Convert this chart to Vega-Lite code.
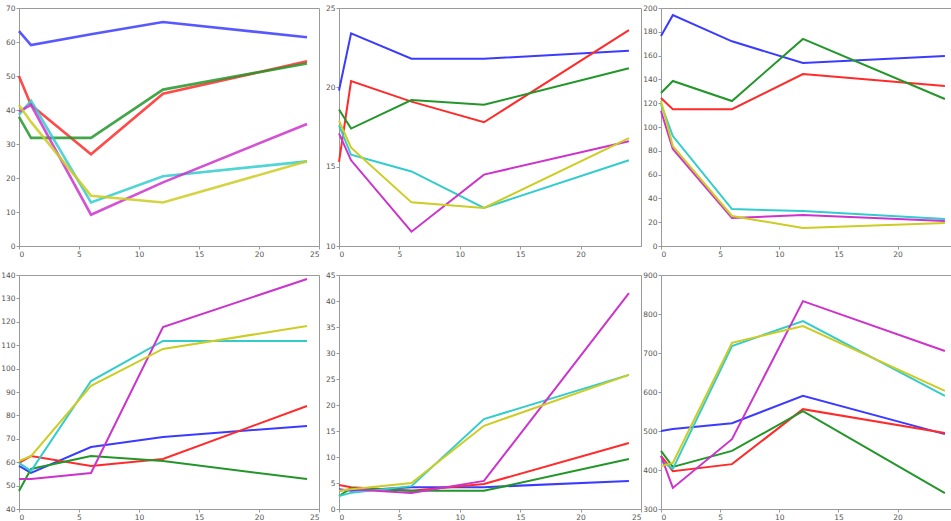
{
"$schema": "https://vega.github.io/schema/vega-lite/v6.json",
"background": "white",
"padding": {"left": 0, "top": 3, "right": 0, "bottom": 0},
"datasets": {"d": [
{"p":1,"s":"blue","t":0,"v":63.2},{"p":1,"s":"blue","t":1,"v":59.1},{"p":1,"s":"blue","t":6,"v":62.3},{"p":1,"s":"blue","t":12,"v":65.9},{"p":1,"s":"blue","t":24,"v":61.4},
{"p":1,"s":"red","t":0,"v":49.9},{"p":1,"s":"red","t":1,"v":41.5},{"p":1,"s":"red","t":6,"v":27.0},{"p":1,"s":"red","t":12,"v":44.8},{"p":1,"s":"red","t":24,"v":54.3},
{"p":1,"s":"green","t":0,"v":38.0},{"p":1,"s":"green","t":1,"v":31.8},{"p":1,"s":"green","t":6,"v":31.8},{"p":1,"s":"green","t":12,"v":46.0},{"p":1,"s":"green","t":24,"v":53.7},
{"p":1,"s":"cyan","t":0,"v":38.6},{"p":1,"s":"cyan","t":1,"v":42.7},{"p":1,"s":"cyan","t":6,"v":12.8},{"p":1,"s":"cyan","t":12,"v":20.5},{"p":1,"s":"cyan","t":24,"v":24.9},
{"p":1,"s":"magenta","t":0,"v":39.5},{"p":1,"s":"magenta","t":1,"v":41.5},{"p":1,"s":"magenta","t":6,"v":9.2},{"p":1,"s":"magenta","t":12,"v":18.7},{"p":1,"s":"magenta","t":24,"v":35.9},
{"p":1,"s":"yellow","t":0,"v":41.5},{"p":1,"s":"yellow","t":1,"v":36.5},{"p":1,"s":"yellow","t":6,"v":14.8},{"p":1,"s":"yellow","t":12,"v":12.8},{"p":1,"s":"yellow","t":24,"v":24.9},

{"p":2,"s":"blue","t":0,"v":19.8},{"p":2,"s":"blue","t":1,"v":23.4},{"p":2,"s":"blue","t":6,"v":21.8},{"p":2,"s":"blue","t":12,"v":21.8},{"p":2,"s":"blue","t":24,"v":22.3},
{"p":2,"s":"red","t":0,"v":15.3},{"p":2,"s":"red","t":1,"v":20.4},{"p":2,"s":"red","t":6,"v":19.1},{"p":2,"s":"red","t":12,"v":17.8},{"p":2,"s":"red","t":24,"v":23.6},
{"p":2,"s":"green","t":0,"v":18.6},{"p":2,"s":"green","t":1,"v":17.4},{"p":2,"s":"green","t":6,"v":19.2},{"p":2,"s":"green","t":12,"v":18.9},{"p":2,"s":"green","t":24,"v":21.2},
{"p":2,"s":"cyan","t":0,"v":17.6},{"p":2,"s":"cyan","t":1,"v":15.75},{"p":2,"s":"cyan","t":6,"v":14.7},{"p":2,"s":"cyan","t":12,"v":12.4},{"p":2,"s":"cyan","t":24,"v":15.4},
{"p":2,"s":"magenta","t":0,"v":17.1},{"p":2,"s":"magenta","t":1,"v":15.4},{"p":2,"s":"magenta","t":6,"v":10.9},{"p":2,"s":"magenta","t":12,"v":14.5},{"p":2,"s":"magenta","t":24,"v":16.6},
{"p":2,"s":"yellow","t":0,"v":17.9},{"p":2,"s":"yellow","t":1,"v":16.2},{"p":2,"s":"yellow","t":6,"v":12.75},{"p":2,"s":"yellow","t":12,"v":12.4},{"p":2,"s":"yellow","t":24,"v":16.8},

{"p":3,"s":"blue","t":0,"v":176.5},{"p":3,"s":"blue","t":1,"v":194},{"p":3,"s":"blue","t":6,"v":172},{"p":3,"s":"blue","t":12,"v":153.8},{"p":3,"s":"blue","t":24,"v":159.7},
{"p":3,"s":"red","t":0,"v":124.4},{"p":3,"s":"red","t":1,"v":115},{"p":3,"s":"red","t":6,"v":115},{"p":3,"s":"red","t":12,"v":144.5},{"p":3,"s":"red","t":24,"v":134.5},
{"p":3,"s":"green","t":0,"v":128.6},{"p":3,"s":"green","t":1,"v":138.7},{"p":3,"s":"green","t":6,"v":121.8},{"p":3,"s":"green","t":12,"v":174},{"p":3,"s":"green","t":24,"v":123.5},
{"p":3,"s":"cyan","t":0,"v":119.3},{"p":3,"s":"cyan","t":1,"v":92.4},{"p":3,"s":"cyan","t":6,"v":31},{"p":3,"s":"cyan","t":12,"v":29.4},{"p":3,"s":"cyan","t":24,"v":22.7},
{"p":3,"s":"magenta","t":0,"v":113.4},{"p":3,"s":"magenta","t":1,"v":81.5},{"p":3,"s":"magenta","t":6,"v":23.5},{"p":3,"s":"magenta","t":12,"v":26},{"p":3,"s":"magenta","t":24,"v":21},
{"p":3,"s":"yellow","t":0,"v":121.8},{"p":3,"s":"yellow","t":1,"v":84},{"p":3,"s":"yellow","t":6,"v":25.2},{"p":3,"s":"yellow","t":12,"v":15.1},{"p":3,"s":"yellow","t":24,"v":19.3},

{"p":4,"s":"blue","t":0,"v":58.4},{"p":4,"s":"blue","t":1,"v":55.4},{"p":4,"s":"blue","t":6,"v":66.5},{"p":4,"s":"blue","t":12,"v":70.8},{"p":4,"s":"blue","t":24,"v":75.5},
{"p":4,"s":"red","t":0,"v":59.7},{"p":4,"s":"red","t":1,"v":62.6},{"p":4,"s":"red","t":6,"v":58.4},{"p":4,"s":"red","t":12,"v":61.4},{"p":4,"s":"red","t":24,"v":84},
{"p":4,"s":"green","t":0,"v":47.7},{"p":4,"s":"green","t":1,"v":57.1},{"p":4,"s":"green","t":6,"v":62.6},{"p":4,"s":"green","t":12,"v":60.5},{"p":4,"s":"green","t":24,"v":52.8},
{"p":4,"s":"cyan","t":0,"v":59.7},{"p":4,"s":"cyan","t":1,"v":56.2},{"p":4,"s":"cyan","t":6,"v":94.7},{"p":4,"s":"cyan","t":12,"v":111.8},{"p":4,"s":"cyan","t":24,"v":111.8},
{"p":4,"s":"magenta","t":0,"v":52.8},{"p":4,"s":"magenta","t":1,"v":52.8},{"p":4,"s":"magenta","t":6,"v":55.4},{"p":4,"s":"magenta","t":12,"v":117.8},{"p":4,"s":"magenta","t":24,"v":138.3},
{"p":4,"s":"yellow","t":0,"v":60.5},{"p":4,"s":"yellow","t":1,"v":62.6},{"p":4,"s":"yellow","t":6,"v":92.6},{"p":4,"s":"yellow","t":12,"v":108.4},{"p":4,"s":"yellow","t":24,"v":118.2},

{"p":5,"s":"blue","t":0,"v":3.8},{"p":5,"s":"blue","t":1,"v":3.5},{"p":5,"s":"blue","t":6,"v":4.2},{"p":5,"s":"blue","t":12,"v":4.2},{"p":5,"s":"blue","t":24,"v":5.4},
{"p":5,"s":"red","t":0,"v":4.6},{"p":5,"s":"red","t":1,"v":4.2},{"p":5,"s":"red","t":6,"v":3.5},{"p":5,"s":"red","t":12,"v":4.8},{"p":5,"s":"red","t":24,"v":12.7},
{"p":5,"s":"green","t":0,"v":2.5},{"p":5,"s":"green","t":1,"v":4.0},{"p":5,"s":"green","t":6,"v":3.5},{"p":5,"s":"green","t":12,"v":3.5},{"p":5,"s":"green","t":24,"v":9.6},
{"p":5,"s":"cyan","t":0,"v":2.5},{"p":5,"s":"cyan","t":1,"v":3.1},{"p":5,"s":"cyan","t":6,"v":4.4},{"p":5,"s":"cyan","t":12,"v":17.3},{"p":5,"s":"cyan","t":24,"v":25.8},
{"p":5,"s":"magenta","t":0,"v":3.5},{"p":5,"s":"magenta","t":1,"v":3.8},{"p":5,"s":"magenta","t":6,"v":3.1},{"p":5,"s":"magenta","t":12,"v":5.4},{"p":5,"s":"magenta","t":24,"v":41.5},
{"p":5,"s":"yellow","t":0,"v":3.5},{"p":5,"s":"yellow","t":1,"v":3.8},{"p":5,"s":"yellow","t":6,"v":5.0},{"p":5,"s":"yellow","t":12,"v":16.0},{"p":5,"s":"yellow","t":24,"v":25.8},

{"p":6,"s":"blue","t":0,"v":500},{"p":6,"s":"blue","t":1,"v":505},{"p":6,"s":"blue","t":6,"v":520},{"p":6,"s":"blue","t":12,"v":590},{"p":6,"s":"blue","t":24,"v":492},
{"p":6,"s":"red","t":0,"v":436},{"p":6,"s":"red","t":1,"v":397},{"p":6,"s":"red","t":6,"v":415},{"p":6,"s":"red","t":12,"v":556},{"p":6,"s":"red","t":24,"v":495},
{"p":6,"s":"green","t":0,"v":449},{"p":6,"s":"green","t":1,"v":408},{"p":6,"s":"green","t":6,"v":449},{"p":6,"s":"green","t":12,"v":551},{"p":6,"s":"green","t":24,"v":341},
{"p":6,"s":"cyan","t":0,"v":423},{"p":6,"s":"cyan","t":1,"v":403},{"p":6,"s":"cyan","t":6,"v":718},{"p":6,"s":"cyan","t":12,"v":782},{"p":6,"s":"cyan","t":24,"v":590},
{"p":6,"s":"magenta","t":0,"v":436},{"p":6,"s":"magenta","t":1,"v":354},{"p":6,"s":"magenta","t":6,"v":479},{"p":6,"s":"magenta","t":12,"v":833},{"p":6,"s":"magenta","t":24,"v":705},
{"p":6,"s":"yellow","t":0,"v":410},{"p":6,"s":"yellow","t":1,"v":418},{"p":6,"s":"yellow","t":6,"v":726},{"p":6,"s":"yellow","t":12,"v":769},{"p":6,"s":"yellow","t":24,"v":603}
]},
"config": {
  "view": {"stroke": "#9a9a9a", "strokeWidth": 1},
  "axis": {"grid": false, "labelFontSize": 7.5, "labelColor": "#555555", "tickColor": "#9a9a9a", "domainColor": "#9a9a9a", "tickSize": 3, "labelPadding": 1, "title": null, "labelFont": "DejaVu Sans"},
  "line": {"strokeWidth": 2}
},
"columns": 3,
"spacing": {"row": 29, "column": 20},
"bounds": "flush",
"concat": [
  {"width": 300, "height": 238, "data": {"name": "d"}, "transform": [{"filter": "datum.p == 1"}], "mark": {"type": "line", "strokeWidth": 2.6, "opacity": 0.85},
   "encoding": {
    "x": {"field": "t", "type": "quantitative", "scale": {"domain": [0, 25], "nice": false}, "axis": {"values": [0, 5, 10, 15, 20, 25]}},
    "y": {"field": "v", "type": "quantitative", "scale": {"domain": [0, 70], "nice": false}, "axis": {"values": [0, 10, 20, 30, 40, 50, 60, 70]}},
    "color": {"field": "s", "type": "nominal", "legend": null, "scale": {"domain": ["blue", "red", "green", "cyan", "magenta", "yellow"], "range": ["#3b3bff", "#ff2a2a", "#23962a", "#33cccc", "#cc33cc", "#cccc22"]}}}},
  {"width": 302, "height": 238, "data": {"name": "d"}, "transform": [{"filter": "datum.p == 2"}], "mark": {"type": "line"},
   "encoding": {
    "x": {"field": "t", "type": "quantitative", "scale": {"domain": [0, 25], "nice": false}, "axis": {"values": [0, 5, 10, 15, 20]}},
    "y": {"field": "v", "type": "quantitative", "scale": {"domain": [10, 25], "nice": false, "zero": false}, "axis": {"values": [10, 15, 20, 25]}},
    "color": {"field": "s", "type": "nominal", "legend": null, "scale": {"domain": ["blue", "red", "green", "cyan", "magenta", "yellow"], "range": ["#2020ff", "#ff2020", "#239623", "#33cccc", "#cc33cc", "#cccc22"]}}}},
  {"width": 291, "height": 238, "data": {"name": "d"}, "transform": [{"filter": "datum.p == 3"}], "mark": {"type": "line"},
   "encoding": {
    "x": {"field": "t", "type": "quantitative", "scale": {"domain": [0, 24.6], "nice": false}, "axis": {"values": [0, 5, 10, 15, 20]}},
    "y": {"field": "v", "type": "quantitative", "scale": {"domain": [0, 200], "nice": false}, "axis": {"values": [0, 20, 40, 60, 80, 100, 120, 140, 160, 180, 200]}},
    "color": {"field": "s", "type": "nominal", "legend": null, "scale": {"domain": ["blue", "red", "green", "cyan", "magenta", "yellow"], "range": ["#2020ff", "#ff2020", "#239623", "#33cccc", "#cc33cc", "#cccc22"]}}}},
  {"width": 300, "height": 234, "data": {"name": "d"}, "transform": [{"filter": "datum.p == 4"}], "mark": {"type": "line"},
   "encoding": {
    "x": {"field": "t", "type": "quantitative", "scale": {"domain": [0, 25], "nice": false}, "axis": {"values": [0, 5, 10, 15, 20, 25]}},
    "y": {"field": "v", "type": "quantitative", "scale": {"domain": [40, 140], "nice": false, "zero": false}, "axis": {"values": [40, 50, 60, 70, 80, 90, 100, 110, 120, 130, 140]}},
    "color": {"field": "s", "type": "nominal", "legend": null, "scale": {"domain": ["blue", "red", "green", "cyan", "magenta", "yellow"], "range": ["#2020ff", "#ff2020", "#239623", "#33cccc", "#cc33cc", "#cccc22"]}}}},
  {"width": 302, "height": 234, "data": {"name": "d"}, "transform": [{"filter": "datum.p == 5"}], "mark": {"type": "line"},
   "encoding": {
    "x": {"field": "t", "type": "quantitative", "scale": {"domain": [0, 25], "nice": false}, "axis": {"values": [0, 5, 10, 15, 20, 25]}},
    "y": {"field": "v", "type": "quantitative", "scale": {"domain": [0, 45], "nice": false}, "axis": {"values": [0, 5, 10, 15, 20, 25, 30, 35, 40, 45]}},
    "color": {"field": "s", "type": "nominal", "legend": null, "scale": {"domain": ["blue", "red", "green", "cyan", "magenta", "yellow"], "range": ["#2020ff", "#ff2020", "#239623", "#33cccc", "#cc33cc", "#cccc22"]}}}},
  {"width": 291, "height": 234, "data": {"name": "d"}, "transform": [{"filter": "datum.p == 6"}], "mark": {"type": "line"},
   "encoding": {
    "x": {"field": "t", "type": "quantitative", "scale": {"domain": [0, 24.6], "nice": false}, "axis": {"values": [0, 5, 10, 15, 20]}},
    "y": {"field": "v", "type": "quantitative", "scale": {"domain": [300, 900], "nice": false, "zero": false}, "axis": {"values": [300, 400, 500, 600, 700, 800, 900]}},
    "color": {"field": "s", "type": "nominal", "legend": null, "scale": {"domain": ["blue", "red", "green", "cyan", "magenta", "yellow"], "range": ["#2020ff", "#ff2020", "#239623", "#33cccc", "#cc33cc", "#cccc22"]}}}}
]
}
